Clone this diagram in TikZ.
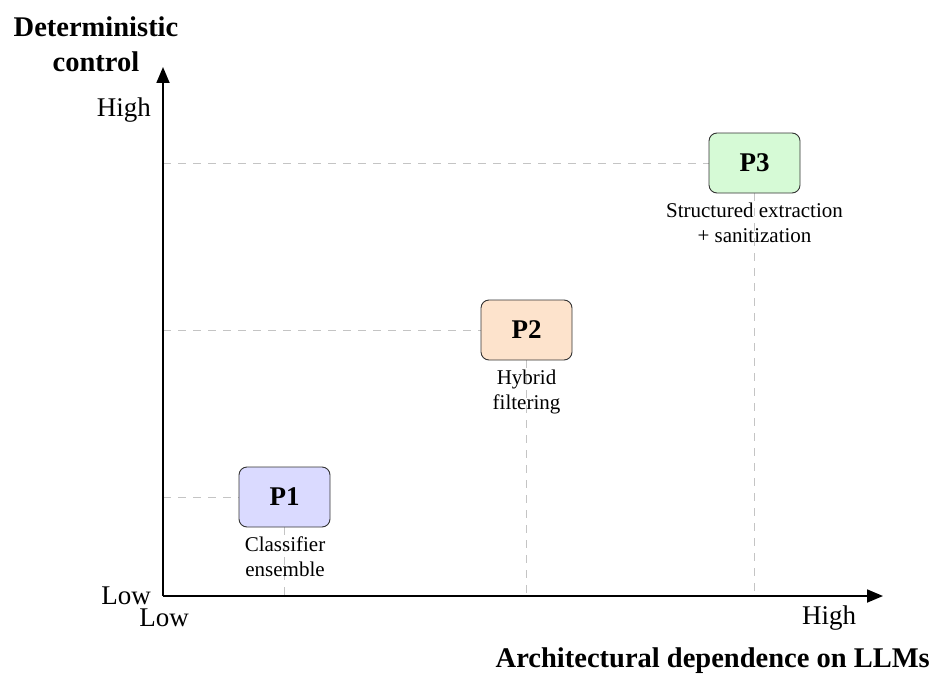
\documentclass[tikz,border=0pt]{standalone}
\usepackage{fontspec}
\setmainfont{Liberation Serif}
\usetikzlibrary{arrows.meta}
\definecolor{pone}{HTML}{DADAFF}
\definecolor{ptwo}{HTML}{FDE3CC}
\definecolor{pthree}{HTML}{D6FAD6}
\definecolor{guide}{HTML}{C4C4C4}
\tikzset{
  axis/.style={line width=1.8pt, -{Triangle[length=16pt,width=13pt]}},
  guideline/.style={guide, line width=1pt, dash pattern=on 8pt off 7pt},
  pbox/.style={draw=black!80, line width=0.9pt, rounded corners=8pt,
    minimum width=91pt, minimum height=60pt, inner sep=0pt,
    font=\fontsize{27}{30}\selectfont\bfseries},
  plabel/.style={align=center, font=\fontsize{21}{24.5}\selectfont, inner sep=0pt},
  ticklabel/.style={font=\fontsize{27}{30}\selectfont, inner sep=0pt},
  title/.style={align=center, font=\fontsize{28.5}{35}\selectfont\bfseries, inner sep=0pt}
}
\begin{document}
\begin{tikzpicture}[x=1pt, y=-1pt]
\useasboundingbox (0,0) rectangle (933,674);

% axes
\coordinate (O) at (163,596);
\coordinate (ytip) at (163,67);
\coordinate (xtip) at (883,596);

% positions
\coordinate (c1) at (284.5,497);
\coordinate (c2) at (526.5,330);
\coordinate (c3) at (754.5,163);
\coordinate (y1) at (163,497);
\coordinate (y2) at (163,330);
\coordinate (y3) at (163,163);
\coordinate (x1) at (284.5,596);
\coordinate (x2) at (526.5,596);
\coordinate (x3) at (754.5,596);

% guide lines
\draw[guideline] (y1) -- (c1);
\draw[guideline] (y2) -- (c2);
\draw[guideline] (y3) -- (c3);
\draw[guideline] (c1) -- (x1);
\draw[guideline] (c2) -- (x2);
\draw[guideline] (c3) -- (x3);

\draw[axis] (O) -- (ytip);
\draw[axis] (O) -- (xtip);

% points
\node[pbox, fill=pone] (p1) at (c1) {P1};
\node[pbox, fill=ptwo] (p2) at (c2) {P2};
\node[pbox, fill=pthree] (p3) at (c3) {P3};

\node[plabel, anchor=north] (l1) at (285,537) {Classifier\\ensemble};
\node[plabel, anchor=north] (l2) at (526.5,370) {Hybrid\\filtering};
\node[plabel, anchor=north] (l3) at (754.5,203) {Structured extraction\\+ sanitization};

% tick labels
\node[ticklabel, anchor=east] (yhigh) at (151,110) {High};
\node[ticklabel, anchor=east] (ylow) at (151,596) {Low};
\node[ticklabel] (xlow) at (164,618) {Low};
\node[ticklabel] (xhigh) at (829,618) {High};

% titles
\node[title] (ytitle) at (96,44) {Deterministic\\control};
\node[title, anchor=east] (xtitle) at (930,661) {Architectural dependence on LLMs};
\end{tikzpicture}
\end{document}
